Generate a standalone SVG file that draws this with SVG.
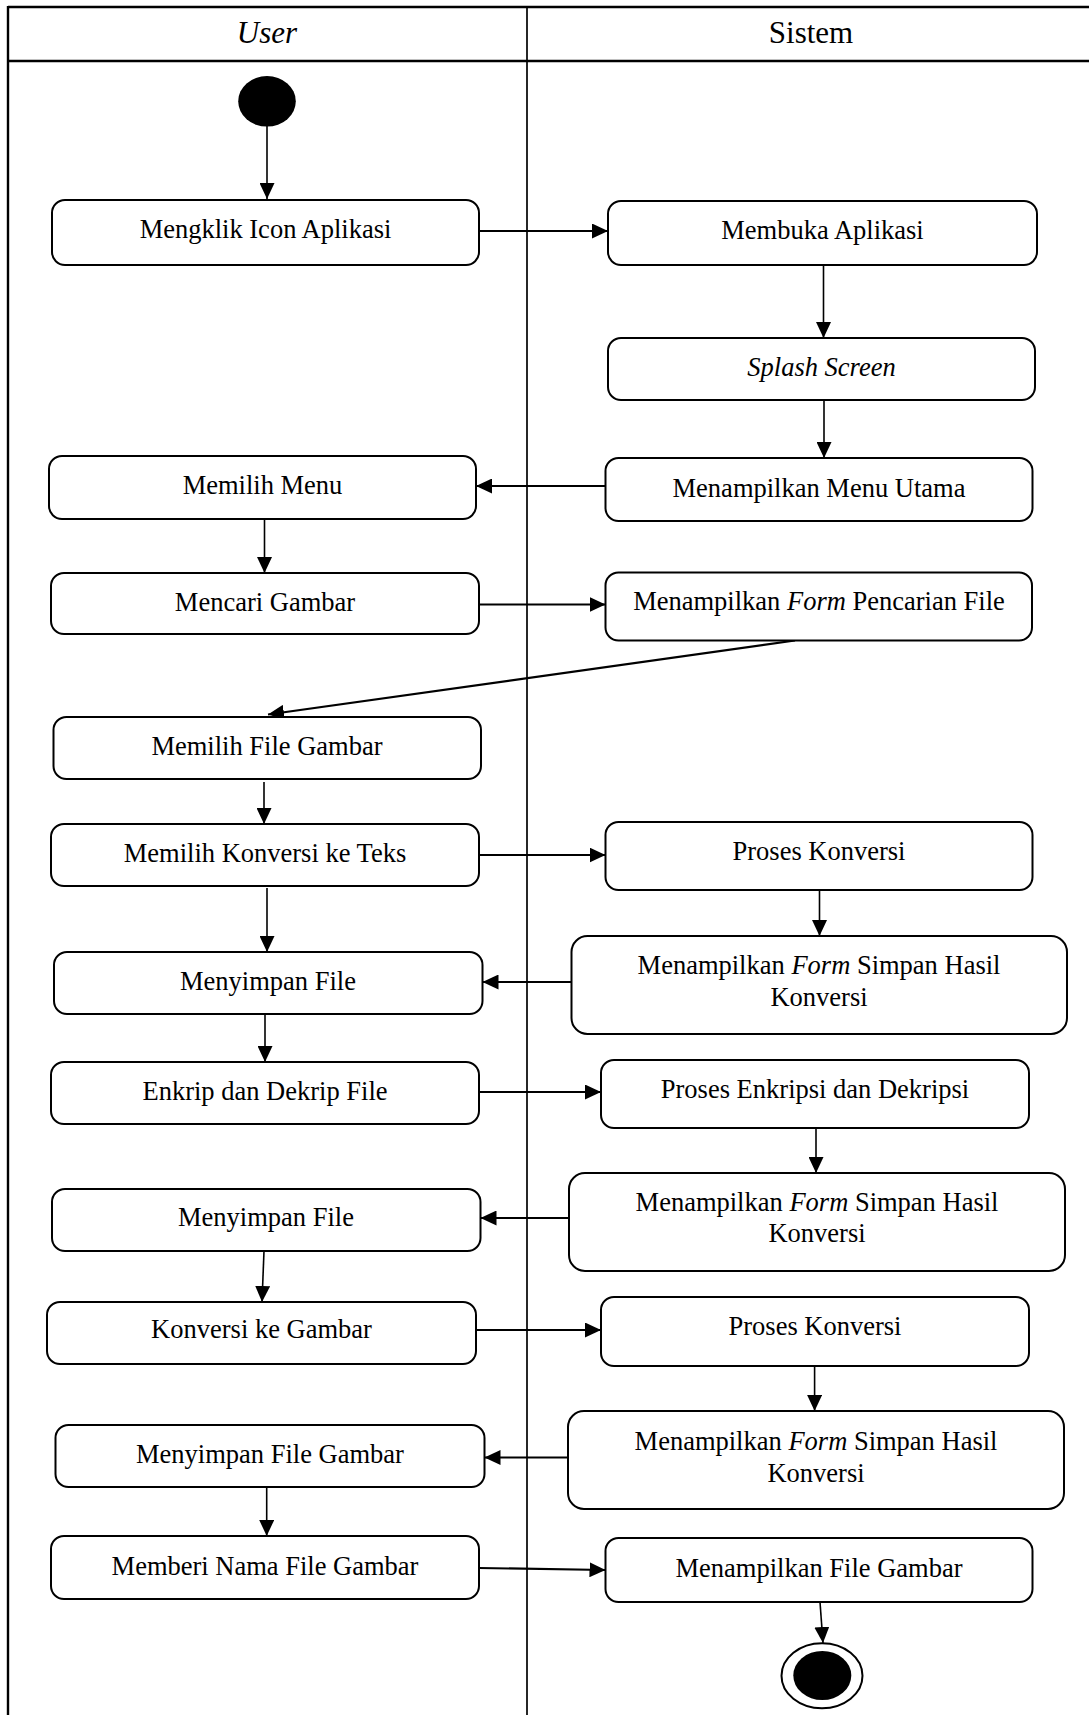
<svg xmlns="http://www.w3.org/2000/svg" width="1089" height="1715" viewBox="0 0 1089 1715">
<style>
.box{fill:#fff;stroke:#000;stroke-width:2}
.t{font-family:"Liberation Serif","Times New Roman",serif;font-size:26.5px;fill:#000;text-anchor:middle}
.h{font-family:"Liberation Serif","Times New Roman",serif;font-size:31px;fill:#000;text-anchor:middle}
.frame{stroke:#000;stroke-width:2.4;fill:none}
.div{stroke:#000;stroke-width:1.7;fill:none}
.v{stroke:#000;stroke-width:1.6;fill:none;marker-end:url(#ah)}
.hz{stroke:#000;stroke-width:2.2;fill:none;marker-end:url(#ah)}
</style>
<defs>
<marker id="ah" markerUnits="userSpaceOnUse" markerWidth="16" markerHeight="15" refX="16" refY="7.5" orient="auto">
<path d="M0,0 L16,7.5 L0,15 z" fill="#000"/>
</marker>
</defs>
<rect width="1089" height="1715" fill="#fff"/>
<g id="swimlanes">
<line class="frame" x1="8" y1="7" x2="1089" y2="7"/>
<line class="frame" x1="8" y1="61" x2="1089" y2="61"/>
<line class="frame" x1="8" y1="6" x2="8" y2="1715"/>
<line class="div" x1="527" y1="7" x2="527" y2="1715"/>
<text class="h" x="267" y="43" font-style="italic">User</text>
<text class="h" x="811" y="43">Sistem</text>
</g>
<g id="connectors">
<line class="v" x1="267" y1="126" x2="267" y2="199"/>
<line class="hz" x1="479" y1="231" x2="608" y2="231"/>
<line class="v" x1="823.5" y1="265" x2="823.5" y2="338"/>
<line class="v" x1="824" y1="400" x2="824" y2="458"/>
<line class="hz" x1="605.5" y1="486" x2="476" y2="486"/>
<line class="v" x1="264.5" y1="519" x2="264.5" y2="573"/>
<line class="hz" x1="479" y1="604.5" x2="605.5" y2="604.5"/>
<line class="hz" x1="795" y1="640.5" x2="268" y2="714.5"/>
<line class="v" x1="264" y1="782" x2="264" y2="824"/>
<line class="hz" x1="479" y1="855" x2="605.5" y2="855"/>
<line class="v" x1="267" y1="888" x2="267" y2="952"/>
<line class="v" x1="819.5" y1="890" x2="819.5" y2="936"/>
<line class="hz" x1="571.5" y1="982" x2="482.5" y2="982"/>
<line class="v" x1="265" y1="1014" x2="265" y2="1062"/>
<line class="hz" x1="479" y1="1092" x2="601" y2="1092"/>
<line class="v" x1="816" y1="1128" x2="816" y2="1173"/>
<line class="hz" x1="569" y1="1218" x2="480.5" y2="1218"/>
<line class="v" x1="264" y1="1251" x2="262" y2="1302"/>
<line class="hz" x1="476" y1="1330" x2="601" y2="1330"/>
<line class="v" x1="814.6" y1="1366" x2="814.6" y2="1411"/>
<line class="hz" x1="568" y1="1457.5" x2="484.5" y2="1457.5"/>
<line class="v" x1="266.7" y1="1487" x2="266.7" y2="1536"/>
<line class="hz" x1="479" y1="1568" x2="605.5" y2="1570"/>
<line class="v" x1="820" y1="1602" x2="823" y2="1643"/>
</g>
<g id="start"><ellipse cx="267" cy="101.3" rx="28.8" ry="25.3" fill="#000"/></g>
<g id="n1"><rect class="box" x="52" y="200" width="427" height="65" rx="13"/><text class="t" x="265.5" y="238">Mengklik Icon Aplikasi</text></g>
<g id="n2"><rect class="box" x="608" y="201" width="429" height="64" rx="13"/><text class="t" x="822.5" y="238.5">Membuka Aplikasi</text></g>
<g id="n3"><rect class="box" x="608" y="338" width="427" height="62" rx="13"/><text class="t" x="821.5" y="376" font-style="italic">Splash Screen</text></g>
<g id="n4"><rect class="box" x="605.5" y="458" width="427" height="63" rx="13"/><text class="t" x="819" y="496.5">Menampilkan Menu Utama</text></g>
<g id="n5"><rect class="box" x="49" y="456" width="427" height="63" rx="13"/><text class="t" x="262.5" y="494">Memilih Menu</text></g>
<g id="n6"><rect class="box" x="51" y="573" width="428" height="61" rx="13"/><text class="t" x="265" y="611">Mencari Gambar</text></g>
<g id="n7"><rect class="box" x="605.5" y="572.5" width="426.5" height="68" rx="13"/><text class="t" x="819" y="610">Menampilkan <tspan font-style="italic">Form</tspan> Pencarian File</text></g>
<g id="n8"><rect class="box" x="53.5" y="717" width="427.5" height="62" rx="13"/><text class="t" x="267" y="755">Memilih File Gambar</text></g>
<g id="n9"><rect class="box" x="51" y="824" width="428" height="62" rx="13"/><text class="t" x="265" y="861.5">Memilih Konversi ke Teks</text></g>
<g id="n10"><rect class="box" x="605.5" y="822" width="427" height="68" rx="13"/><text class="t" x="819" y="860">Proses Konversi</text></g>
<g id="n11"><rect class="box" x="54" y="952" width="428.5" height="62" rx="13"/><text class="t" x="268" y="990">Menyimpan File</text></g>
<g id="n12"><rect class="box" x="571.5" y="936" width="495.5" height="98" rx="16"/><text class="t" x="819" y="974">Menampilkan <tspan font-style="italic">Form</tspan> Simpan Hasil</text><text class="t" x="819" y="1006">Konversi</text></g>
<g id="n13"><rect class="box" x="51" y="1062" width="428" height="62" rx="13"/><text class="t" x="265" y="1100">Enkrip dan Dekrip File</text></g>
<g id="n14"><rect class="box" x="601" y="1060" width="428" height="68" rx="13"/><text class="t" x="815" y="1098">Proses Enkripsi dan Dekripsi</text></g>
<g id="n15"><rect class="box" x="569" y="1173" width="496" height="98" rx="16"/><text class="t" x="817" y="1211">Menampilkan <tspan font-style="italic">Form</tspan> Simpan Hasil</text><text class="t" x="817" y="1242">Konversi</text></g>
<g id="n16"><rect class="box" x="52" y="1189" width="428.5" height="62" rx="13"/><text class="t" x="266" y="1226">Menyimpan File</text></g>
<g id="n17"><rect class="box" x="47" y="1302" width="429" height="62" rx="13"/><text class="t" x="261.5" y="1338">Konversi ke Gambar</text></g>
<g id="n18"><rect class="box" x="601" y="1297" width="428" height="69" rx="13"/><text class="t" x="815" y="1335">Proses Konversi</text></g>
<g id="n19"><rect class="box" x="568" y="1411" width="496" height="98" rx="16"/><text class="t" x="816" y="1450">Menampilkan <tspan font-style="italic">Form</tspan> Simpan Hasil</text><text class="t" x="816" y="1482">Konversi</text></g>
<g id="n20"><rect class="box" x="55.5" y="1425" width="429" height="62" rx="13"/><text class="t" x="270" y="1463">Menyimpan File Gambar</text></g>
<g id="n21"><rect class="box" x="51" y="1536" width="428" height="63" rx="13"/><text class="t" x="265" y="1575">Memberi Nama File Gambar</text></g>
<g id="n22"><rect class="box" x="605.5" y="1538" width="427" height="64" rx="13"/><text class="t" x="819" y="1576.5">Menampilkan File Gambar</text></g>
<g id="end"><ellipse cx="822" cy="1675.7" rx="40.5" ry="32.5" fill="#fff" stroke="#000" stroke-width="2"/><ellipse cx="822.3" cy="1675.5" rx="29" ry="24.5" fill="#000"/></g>
</svg>
